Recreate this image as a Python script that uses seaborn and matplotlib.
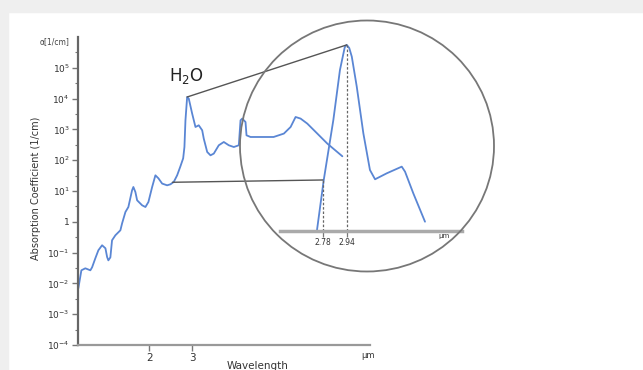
import matplotlib
matplotlib.use("Agg")
import matplotlib.pyplot as plt
import seaborn as sns
import numpy as np
import pandas as pd
from matplotlib.patches import Ellipse, Rectangle, ConnectionPatch
from matplotlib.ticker import FixedLocator, NullLocator

# main spectrum (wavelength in um, absorption in 1/cm)
main_wl = [1.023, 1.053, 1.093, 1.146, 1.165, 1.201, 1.236, 1.280, 1.321, 1.342,
           1.358, 1.384, 1.406, 1.451, 1.521, 1.546, 1.595, 1.640, 1.698, 1.719,
           1.752, 1.781, 1.867, 1.926, 1.981, 2.052, 2.116, 2.177, 2.255, 2.363,
           2.438, 2.515, 2.597, 2.679, 2.749, 2.782, 2.809, 2.854, 2.898, 2.992,
           3.087, 3.184, 3.289, 3.338, 3.448, 3.557, 3.669, 3.846, 4.032, 4.227,
           4.432, 4.645, 4.721, 4.797, 4.948, 4.995, 5.188, 5.702, 6.447, 7.103,
           7.569, 7.933, 8.316, 8.858, 9.737, 10.70, 12.33]
main_abs = [0.0069, 0.0266, 0.0309, 0.0266, 0.0333, 0.0653, 0.119, 0.173, 0.138, 0.072,
            0.056, 0.070, 0.251, 0.365, 0.530, 0.894, 2.08, 3.02, 10.5, 13.5,
            9.28, 4.99, 3.43, 3.02, 4.39, 13.5, 32.3, 25.8, 17.4, 15.3,
            16.5, 19.6, 32.3, 63.4, 115, 268, 1974, 11270, 10000, 3260,
            1197, 1359, 935, 503, 185, 144, 164, 305, 390, 305,
            268, 305, 1974, 2244, 1738, 643, 567, 567, 567, 731,
            1197, 2528, 2244, 1543, 731, 346, 134]

# magnified H2O band
inset_wl = [2.74, 2.785, 2.849, 2.893, 2.925, 2.938, 2.955, 2.972, 3.005, 3.049,
            3.093, 3.127, 3.205, 3.305, 3.327, 3.382, 3.46]
inset_abs = [65, 3290, 7160, 10385, 11850, 12000, 11800, 11240, 9310, 6300,
             3935, 3335, 3720, 4150, 3825, 2430, 600]

y_ticks = [1e-4, 1e-3, 1e-2, 1e-1, 1, 1e1, 1e2, 1e3, 1e4, 1e5]
y_labels = ["10$^{-4}$", "10$^{-3}$", "10$^{-2}$", "10$^{-1}$", "1",
            "10$^{1}$", "10$^{2}$", "10$^{3}$", "10$^{4}$", "10$^{5}$"]
x_ticks = [2, 3]
inset_ticks = [2.78, 2.94]

sns.set_style("white")
plt.rcParams['font.family'] = ['DejaVu Sans']

blue = "#5a86d4"
W, H = 643, 370
fig = plt.figure(figsize=(W / 100, H / 100), dpi=100)

# grey frame on top and left
fig.patches.append(Rectangle((0, 1 - 12 / H), 1, 12 / H, transform=fig.transFigure,
                             color="#efefef", zorder=0))
fig.patches.append(Rectangle((0, 0), 8 / W, 1, transform=fig.transFigure,
                             color="#efefef", zorder=0))

ax = fig.add_axes([78 / W, 1 - 345 / H, (370 - 78) / W, (345 - 37) / H])
ax.patch.set_alpha(0)
df = pd.DataFrame({"wl": main_wl, "abs": main_abs})
sns.lineplot(data=df, x="wl", y="abs", ax=ax, color=blue, lw=1.3,
             estimator=None, sort=False)
ax.set_xscale("log")
ax.set_yscale("log")
ax.set_xlim(1.02, 16)
ax.set_ylim(1e-4, 1e6)
ax.xaxis.set_major_locator(FixedLocator(x_ticks))
ax.xaxis.set_minor_locator(NullLocator())
ax.set_xticklabels(["2", "3"])
ax.yaxis.set_major_locator(FixedLocator(y_ticks))
ax.yaxis.set_minor_locator(FixedLocator([10 ** (k + 0.5) for k in range(-4, 6)]))
ax.set_yticklabels(y_labels)
ax.tick_params(axis="both", which="both", bottom=True, left=True)
ax.tick_params(axis="both", which="major", labelsize=6.5, labelcolor="#333",
               color="#777", length=4, width=1, direction="out", pad=2)
ax.tick_params(axis="y", which="minor", color="#777", length=2.5, width=0.8)
ax.tick_params(axis="x", labelsize=7.5)
for s in ["top", "right"]:
    ax.spines[s].set_visible(False)
ax.spines["left"].set_color("#666")
ax.spines["left"].set_linewidth(1.6)
ax.spines["bottom"].set_color("#999")
ax.spines["bottom"].set_linewidth(1.6)
ax.set_xlabel("")
ax.set_ylabel("")

fig.text(36 / W, 1 - 188 / H, "Absorption Coefficient (1/cm)", rotation=90,
         ha="center", va="center", fontsize=7, color="#333")
fig.text(55 / W, 1 - 42 / H, "α[1/cm]", ha="center", va="center",
         fontsize=5.5, color="#444")
fig.text(258 / W, 1 - 366 / H, "Wavelength", ha="center", va="center",
         fontsize=7.5, color="#333")
fig.text(368 / W, 1 - 356 / H, "µm", ha="center", va="center",
         fontsize=6, color="#333")
fig.text(186 / W, 1 - 76 / H, "H$_2$O", ha="center", va="center",
         fontsize=12, color="#222")

# magnifier circle
fig.patches.append(Ellipse((367 / W, 1 - 146 / H), 2 * 127 / W, 2 * 125.5 / H,
                           transform=fig.transFigure, fill=False,
                           edgecolor="#777", lw=1.3, zorder=3))

ax_in = fig.add_axes([280 / W, 1 - 231 / H, (462 - 280) / W, (231 - 35.6) / H])
ax_in.patch.set_alpha(0)
di = pd.DataFrame({"wl": inset_wl, "abs": inset_abs})
sns.lineplot(data=di, x="wl", y="abs", ax=ax_in, color=blue, lw=1.3,
             estimator=None, sort=False)
ax_in.set_xlim(2.4933, 3.7067)
ax_in.set_ylim(0, 12600)
ax_in.vlines(inset_ticks[0], 0, 3290, colors="#666", linestyles=(0, (2, 1.5)), lw=0.9)
ax_in.vlines(inset_ticks[1], 0, 12000, colors="#666", linestyles=(0, (2, 1.5)), lw=0.9)
ax_in.set_xticks(inset_ticks)
ax_in.set_xticklabels(["2.78", "2.94"])
ax_in.set_yticks([])
ax_in.tick_params(axis="x", bottom=True, labelsize=5.5, labelcolor="#333",
                  color="#777", length=4, width=0.9, pad=1)
for s in ["top", "right", "left"]:
    ax_in.spines[s].set_visible(False)
ax_in.spines["bottom"].set_color("#aaa")
ax_in.spines["bottom"].set_linewidth(2.5)
ax_in.set_xlabel("")
ax_in.set_ylabel("")
fig.text(444 / W, 1 - 236 / H, "µm", ha="center", va="center",
         fontsize=5, color="#333")

# connector lines from main peak to magnified view
for a_pt, b_pt in [((2.854, 11270), (2.938, 12000)), ((2.485, 19.2), (2.78, 3290))]:
    con = ConnectionPatch(xyA=a_pt, coordsA=ax.transData, xyB=b_pt,
                          coordsB=ax_in.transData, color="#555", lw=1.0)
    fig.add_artist(con)

fig.savefig("out.png", dpi=100)
